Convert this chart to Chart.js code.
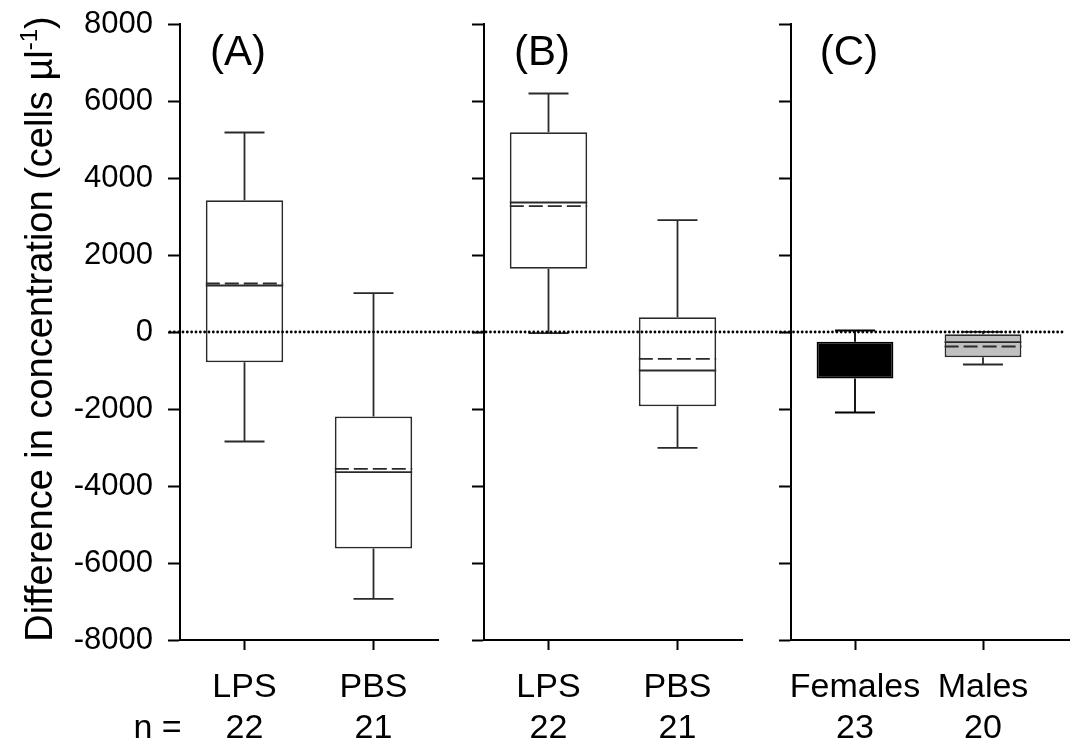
<!DOCTYPE html>
<html>
<head>
<meta charset="utf-8">
<script src="https://cdn.jsdelivr.net/npm/chart.js@4.4.1/dist/chart.umd.min.js"></script>
<style>
  html, body { margin: 0; padding: 0; background: #fff; }
  #wrap { position: relative; width: 1070px; height: 752px; overflow: hidden; }
  canvas { position: absolute; top: 0; }
</style>
</head>
<body>
<div id="wrap">
  <canvas id="panelA" width="455" height="752" style="left:0px"></canvas>
  <canvas id="panelB" width="305" height="752" style="left:455px"></canvas>
  <canvas id="panelC" width="310" height="752" style="left:760px"></canvas>
</div>
<script>
// --- data (cells per µl) ---
const yTicks = [-8000, -6000, -4000, -2000, 0, 2000, 4000, 6000, 8000];

// (A)
const groupsA = ['LPS', 'PBS'];
const nA = [22, 21];
const lowA = [-2844, -6930];
const q1A = [-784, -5623];
const medA = [1208, -3641];
const meanA = [1260, -3553];
const q3A = [3423, -2195];
const highA = [5182, 1008];

// (B)
const groupsB = ['LPS', 'PBS'];
const nB = [22, 21];
const lowB = [-30, -3008];
const q1B = [1642, -1927];
const medB = [3364, -1000];
const meanB = [3268, -696];
const q3B = [5190, 384];
const highB = [6195, 2904];

// (C)
const groupsC = ['Females', 'Males'];
const nC = [23, 20];
const lowC = [-2091, -844];
const q1C = [-1208, -655];
const medC = [-780, -265];
const meanC = [-720, -377];
const q3C = [-255, -57];
const highC = [39, 5];

const FONT = "'Liberation Sans', Arial, sans-serif";

// whiskers, caps, median (solid) and mean (dashed)
const boxExtras = {
  id: 'boxExtras',
  afterDatasetsDraw(chart, args, o) {
    const ctx = chart.ctx;
    const y = chart.scales.y;
    const meta = chart.getDatasetMeta(0);
    meta.data.forEach((bar, i) => {
      const cx = bar.x;
      const half = bar.width / 2;
      const cap = 20;
      ctx.save();
      ctx.strokeStyle = o.edge[i];
      ctx.lineWidth = 1.8;
      ctx.beginPath();
      ctx.moveTo(cx, y.getPixelForValue(o.q3[i]));
      ctx.lineTo(cx, y.getPixelForValue(o.high[i]));
      ctx.moveTo(cx - cap, y.getPixelForValue(o.high[i]));
      ctx.lineTo(cx + cap, y.getPixelForValue(o.high[i]));
      ctx.moveTo(cx, y.getPixelForValue(o.q1[i]));
      ctx.lineTo(cx, y.getPixelForValue(o.low[i]));
      ctx.moveTo(cx - cap, y.getPixelForValue(o.low[i]));
      ctx.lineTo(cx + cap, y.getPixelForValue(o.low[i]));
      ctx.stroke();
      // inside the black box the lines are invisible in the original
      if (o.inner[i]) {
        ctx.strokeStyle = o.inner[i];
        ctx.beginPath();
        ctx.moveTo(cx - half, y.getPixelForValue(o.med[i]));
        ctx.lineTo(cx + half, y.getPixelForValue(o.med[i]));
        ctx.stroke();
        ctx.setLineDash([14, 5]);
        ctx.beginPath();
        ctx.moveTo(cx - half, y.getPixelForValue(o.mean[i]));
        ctx.lineTo(cx + half, y.getPixelForValue(o.mean[i]));
        ctx.stroke();
      }
      ctx.restore();
    });
  }
};

// dotted zero line, panel tag, n row, extra axis line, y title
const decor = {
  id: 'decor',
  afterDraw(chart, args, o) {
    const ctx = chart.ctx;
    const ca = chart.chartArea;
    const x = chart.scales.x;
    const y = chart.scales.y;
    const W = chart.width;

    // dotted line at zero, aligned across the three canvases
    const P = 4.33, g0 = 170, g1 = 1063;
    const k0 = Math.ceil(Math.max(0, o.offsetX - g0) / P);
    const xs = g0 + k0 * P - o.offsetX;
    const xe = Math.min(W, g1 - o.offsetX);
    const y0 = y.getPixelForValue(0);
    ctx.save();
    ctx.fillStyle = '#000';
    for (let px = xs; px <= xe; px += P) {
      ctx.beginPath();
      ctx.arc(px, y0, 1.4, 0, Math.PI * 2);
      ctx.fill();
    }
    ctx.restore();

    // axis line running on past the last category
    if (o.axisTo) {
      ctx.save();
      ctx.strokeStyle = '#000';
      ctx.lineWidth = 2;
      ctx.beginPath();
      ctx.moveTo(ca.right - 1, ca.bottom);
      ctx.lineTo(o.axisTo, ca.bottom);
      ctx.stroke();
      ctx.restore();
    }

    ctx.save();
    ctx.fillStyle = '#000';
    ctx.font = '42px ' + FONT;
    ctx.textAlign = 'center';
    ctx.textBaseline = 'alphabetic';
    ctx.fillText(o.tag, ca.left + 58, 65);

    ctx.font = '34px ' + FONT;
    o.n.forEach((v, i) => {
      ctx.fillText(String(v), x.getPixelForValue(i), 738);
    });
    if (o.nPrefix) {
      ctx.textAlign = 'left';
      ctx.fillText('n =', x.getPixelForValue(0) - 111, 738);
    }

    if (o.yTitle) {
      const main = 'Difference in concentration (cells µl';
      ctx.translate(52, 329);
      ctx.rotate(-Math.PI / 2);
      ctx.textAlign = 'left';
      ctx.font = '38px ' + FONT;
      const w1 = ctx.measureText(main).width;
      const w3 = ctx.measureText(')').width;
      ctx.font = '24px ' + FONT;
      const w2 = ctx.measureText('-1').width;
      const start = -(w1 + w2 + w3) / 2;
      ctx.font = '38px ' + FONT;
      ctx.fillText(main, start, 0);
      ctx.font = '24px ' + FONT;
      ctx.fillText('-1', start + w1, -15);
      ctx.font = '38px ' + FONT;
      ctx.fillText(')', start + w1 + w2, 0);
    }
    ctx.restore();
  }
};

function makePanel(id, p) {
  return new Chart(document.getElementById(id), {
    type: 'bar',
    data: {
      labels: p.groups,
      datasets: [{
        data: p.q1.map((v, i) => [v, p.q3[i]]),
        backgroundColor: p.fill,
        borderColor: p.edge,
        borderWidth: 1.8,
        borderSkipped: false,
        barPercentage: 0.6,
        categoryPercentage: 1
      }]
    },
    options: {
      responsive: false,
      animation: false,
      events: [],
      layout: { padding: { top: 24, right: p.rightPad, bottom: 0, left: 0 } },
      plugins: {
        legend: { display: false },
        tooltip: { enabled: false },
        boxExtras: { low: p.low, q1: p.q1, med: p.med, mean: p.mean, q3: p.q3, high: p.high, inner: p.inner, edge: p.edge },
        decor: { offsetX: p.offsetX, tag: p.tag, n: p.n, nPrefix: p.nPrefix, yTitle: p.yTitle, axisTo: p.axisTo }
      },
      scales: {
        x: {
          type: 'category',
          offset: true,
          grid: { drawOnChartArea: false, offset: false, tickLength: 10, tickWidth: 2, color: '#000' },
          border: { display: true, width: 2, color: '#000' },
          ticks: { color: '#000', font: { size: 34, family: FONT }, padding: 17, maxRotation: 0, autoSkip: false },
          afterFit(s) { s.height = 112; s.paddingLeft = 0; s.paddingRight = 0; }
        },
        y: {
          min: -8000,
          max: 8000,
          afterBuildTicks(s) { s.ticks = yTicks.map(v => ({ value: v })); },
          grid: { drawOnChartArea: false, tickLength: 12, tickWidth: 2, color: '#000' },
          border: { display: true, width: 2, color: '#000' },
          ticks: {
            display: p.showTicks, color: '#000', font: { size: 31, family: FONT }, padding: 15,
            callback: v => String(v)
          },
          afterFit(s) { s.width = p.leftW; s.paddingTop = 0; s.paddingBottom = 0; }
        }
      }
    },
    plugins: [boxExtras, decor]
  });
}

makePanel('panelA', {
  groups: groupsA, n: nA, low: lowA, q1: q1A, med: medA, mean: meanA, q3: q3A, high: highA,
  fill: ['#fff', '#fff'], edge: ['#2a2a2a', '#2a2a2a'], inner: ['#2a2a2a', '#2a2a2a'],
  tag: '(A)', nPrefix: true, yTitle: true, showTicks: true,
  leftW: 180, rightPad: 17, offsetX: 0
});
makePanel('panelB', {
  groups: groupsB, n: nB, low: lowB, q1: q1B, med: medB, mean: meanB, q3: q3B, high: highB,
  fill: ['#fff', '#fff'], edge: ['#2a2a2a', '#2a2a2a'], inner: ['#2a2a2a', '#2a2a2a'],
  tag: '(B)', nPrefix: false, yTitle: false, showTicks: false,
  leftW: 29, rightPad: 18, offsetX: 455
});
makePanel('panelC', {
  groups: groupsC, n: nC, low: lowC, q1: q1C, med: medC, mean: meanC, q3: q3C, high: highC,
  fill: ['#000', '#c0c0c0'], edge: ['#000', '#2a2a2a'], inner: [null, '#2a2a2a'],
  tag: '(C)', nPrefix: false, yTitle: false, showTicks: false,
  leftW: 31, rightPad: 23, offsetX: 760, axisTo: 310
});
</script>
</body>
</html>
